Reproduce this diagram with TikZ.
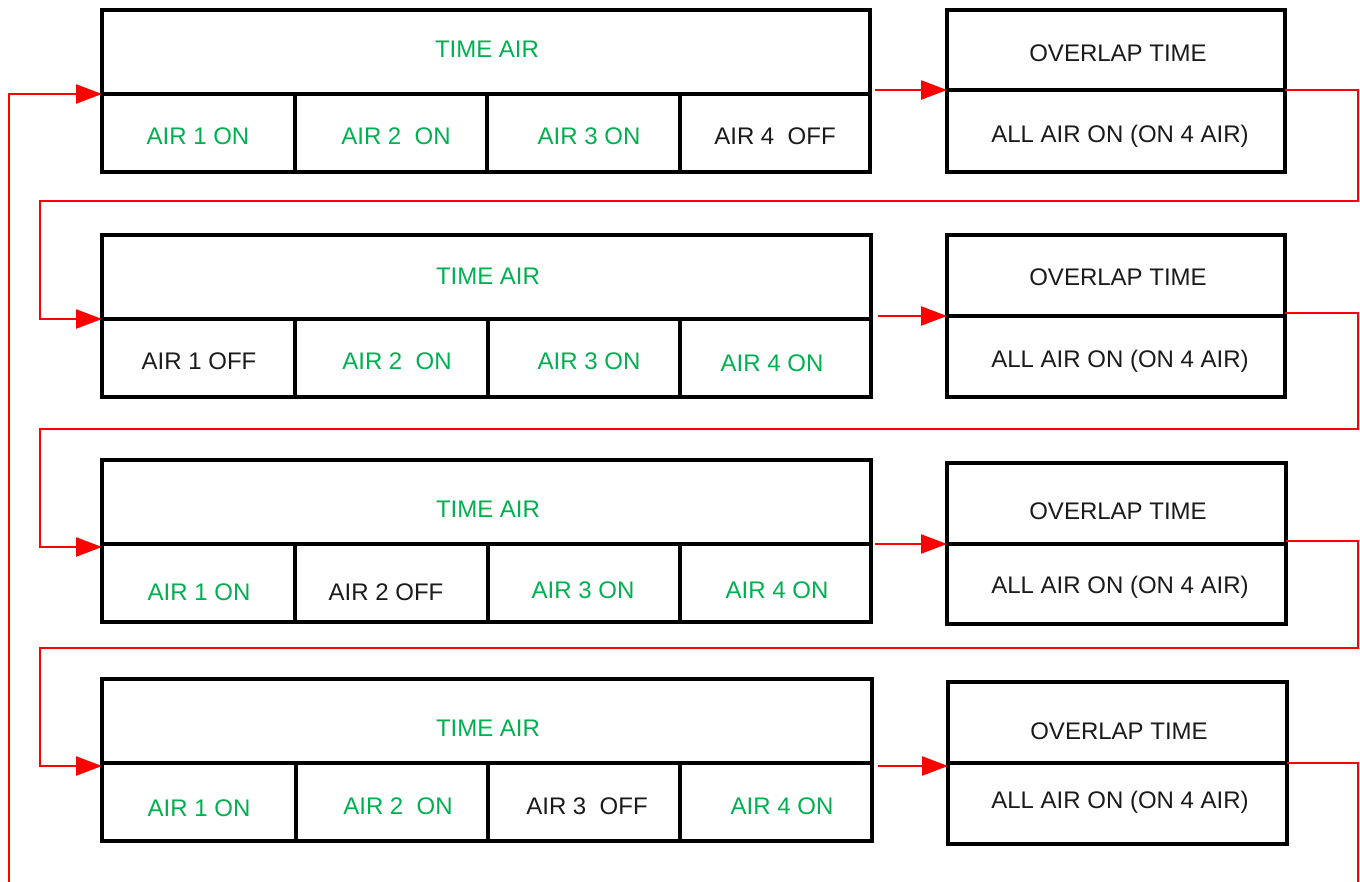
\documentclass[tikz,border=0pt]{standalone}
\usepackage{fontspec}
\setmainfont{Liberation Sans}
\usetikzlibrary{arrows.meta,calc}
\definecolor{airgreen}{RGB}{0,176,80}
\definecolor{airtext}{RGB}{26,26,26}
\definecolor{flowred}{RGB}{255,0,0}
% box from (x1,y1) to (x2,y2), y measured downward
\newcommand\cellnode[5]{\node[cell, anchor=north west, minimum width=#4pt-#2pt, minimum height=#5pt-#3pt] (#1) at (#2,#3) {};}
\begin{document}
\begin{tikzpicture}[x=1pt,y=-1pt,
  cell/.style={draw=black, line width=4.3pt, rectangle, inner sep=0pt, outer sep=0pt},
  lbl/.style={anchor=base, inner sep=0pt, font=\fontsize{24}{24}\selectfont},
  on/.style={lbl, text=airgreen},
  off/.style={lbl, text=airtext},
  flow/.style={draw=flowred, line width=2.4pt, -{Triangle[length=26pt,width=19pt]}},
  wire/.style={draw=flowred, line width=2.4pt}]
\useasboundingbox (0,0) rectangle (1360,882);

% ---- row 1 ----
\cellnode{r1t}{102}{10}{870}{94}
\cellnode{r1a}{102}{94}{295}{172}
\cellnode{r1b}{295}{94}{487}{172}
\cellnode{r1c}{487}{94}{680}{172}
\cellnode{r1d}{680}{94}{870}{172}
\cellnode{o1t}{947}{10}{1285}{90}
\cellnode{o1b}{947}{90}{1285}{172}
\node[on]  (l1t) at (487,57.6)   {TIME AIR};
\node[on]  (l1a) at (198,144.6)  {AIR 1 ON};
\node[on]  (l1b) at (396,144.6)  {AIR 2\ \ ON};
\node[on]  (l1c) at (589,144.6)  {AIR 3 ON};
\node[off] (l1d) at (775,144.6)  {AIR 4\ \ OFF};
\node[off] (m1t) at (1118,61.1)  {OVERLAP TIME};
\node[off] (m1b) at (1120,142.1) {ALL AIR ON (ON 4 AIR)};

% ---- row 2 ----
\cellnode{r2t}{102}{235}{871}{319}
\cellnode{r2a}{102}{319}{295}{397}
\cellnode{r2b}{295}{319}{488}{397}
\cellnode{r2c}{488}{319}{680}{397}
\cellnode{r2d}{680}{319}{871}{397}
\cellnode{o2t}{947}{235}{1285}{316}
\cellnode{o2b}{947}{316}{1285}{397}
\node[on]  (l2t) at (488,284.6)  {TIME AIR};
\node[off] (l2a) at (199,369.6)  {AIR 1 OFF};
\node[on]  (l2b) at (397,369.6)  {AIR 2\ \ ON};
\node[on]  (l2c) at (589,369.6)  {AIR 3 ON};
\node[on]  (l2d) at (772,371.6)  {AIR 4 ON};
\node[off] (m2t) at (1118,285.6) {OVERLAP TIME};
\node[off] (m2b) at (1120,367.1) {ALL AIR ON (ON 4 AIR)};

% ---- row 3 ----
\cellnode{r3t}{102}{460}{871}{544}
\cellnode{r3a}{102}{544}{295}{622}
\cellnode{r3b}{295}{544}{488}{622}
\cellnode{r3c}{488}{544}{680}{622}
\cellnode{r3d}{680}{544}{871}{622}
\cellnode{o3t}{947}{463}{1286}{544}
\cellnode{o3b}{947}{544}{1286}{624}
\node[on]  (l3t) at (488,517.6)  {TIME AIR};
\node[on]  (l3a) at (199,600.6)  {AIR 1 ON};
\node[off] (l3b) at (386,600.6)  {AIR 2 OFF};
\node[on]  (l3c) at (583,598.6)  {AIR 3 ON};
\node[on]  (l3d) at (777,598.6)  {AIR 4 ON};
\node[off] (m3t) at (1118,519.6) {OVERLAP TIME};
\node[off] (m3b) at (1120,593.6) {ALL AIR ON (ON 4 AIR)};

% ---- row 4 ----
\cellnode{r4t}{102}{679}{872}{763}
\cellnode{r4a}{102}{763}{296}{841}
\cellnode{r4b}{296}{763}{488}{841}
\cellnode{r4c}{488}{763}{680}{841}
\cellnode{r4d}{680}{763}{872}{841}
\cellnode{o4t}{948}{682}{1287}{763}
\cellnode{o4b}{948}{763}{1287}{844}
\node[on]  (l4t) at (488,736.6)  {TIME AIR};
\node[on]  (l4a) at (199,816.6)  {AIR 1 ON};
\node[on]  (l4b) at (398,814.6)  {AIR 2\ \ ON};
\node[off] (l4c) at (587,814.6)  {AIR 3\ \ OFF};
\node[on]  (l4d) at (782,814.6)  {AIR 4 ON};
\node[off] (m4t) at (1119,739.6) {OVERLAP TIME};
\node[off] (m4b) at (1120,808.6) {ALL AIR ON (ON 4 AIR)};

% ---- air time -> overlap time ----
\draw[flow] ($(r1t.east |- o1t.south west)+(5,0)$) -- (o1t.south west);
\draw[flow] ($(r2t.east |- o2t.south west)+(7,0)$) -- (o2t.south west);
\draw[flow] ($(r3t.east |- o3t.south west)+(4,0)$) -- (o3t.south west);
\draw[flow] ($(r4t.east |- o4t.south west)+(6,3)$) -- ($(o4t.south west)+(0,3)$);

% ---- overlap time -> next cycle ----
\coordinate (loopin) at (9,882);
\coordinate (loopout) at (1358,882);
\draw[flow] (o1t.south east) -- (1358,90) |- (40,201) |- (r2t.south west);
\draw[flow] ($(o2t.south east)+(0,-3)$) -- (1358,313) |- (40,429) |- ($(r3t.south west)+(0,3)$);
\draw[flow] ($(o3t.south east)+(0,-3)$) -- (1358,541) |- (40,648) |- ($(r4t.south west)+(0,3)$);
\draw[wire] (o4t.south east) -| (loopout);
\draw[flow] (loopin) |- (r1t.south west);
\end{tikzpicture}
\end{document}
